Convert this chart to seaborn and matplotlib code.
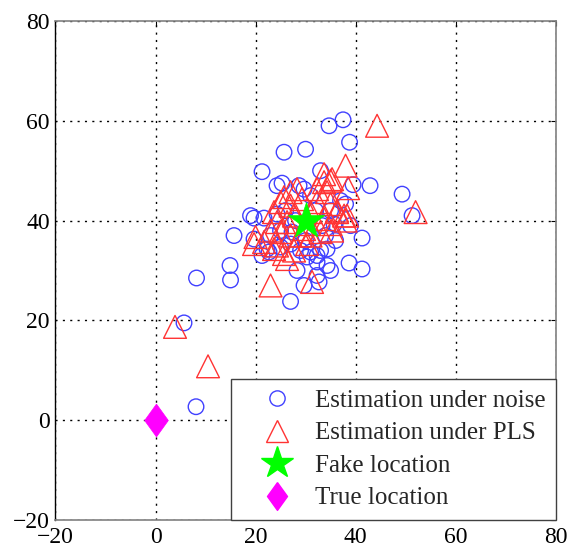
import numpy as np
import pandas as pd
import matplotlib
matplotlib.use("Agg")
import matplotlib.pyplot as plt
from matplotlib.lines import Line2D
import seaborn as sns

# Position estimates under measurement noise
noise_x = [34.7, 37.5, 38.8, 25.7, 30.0, 21.3, 33.0, 24.3, 25.3, 29.7, 39.5, 42.9,
           49.3, 51.3, 38.0, 19.7, 21.7, 15.7, 19.7, 21.3, 22.7, 41.3, 38.7, 41.3,
           35.0, 28.3, 14.9, 15.0, 8.2, 29.7, 32.3, 32.7, 27.0, 32.3, 34.3, 30.3,
           5.7, 8.1, 24.3, 35.7, 25.0, 27.0, 29.0, 33.0, 28.7, 39.0, 31.0, 22.3,
           34.3, 32.3, 27.3, 33.3, 37.0, 26.0, 30.0, 36.0, 28.0, 32.0, 25.0, 34.0,
           23.0, 31.0, 19.0, 35.0]
noise_y = [59.0, 60.2, 55.7, 53.7, 54.3, 49.8, 50.0, 47.0, 47.5, 46.3, 47.2, 47.0,
           45.3, 41.0, 43.3, 40.5, 40.5, 37.0, 36.3, 33.0, 33.7, 36.5, 31.5, 30.3,
           30.0, 30.0, 31.0, 28.1, 28.5, 27.0, 29.0, 27.7, 23.8, 33.0, 34.3, 32.7,
           19.5, 2.7, 41.3, 39.3, 34.7, 35.3, 34.0, 34.0, 47.0, 39.0, 33.7, 34.3,
           31.0, 31.7, 37.7, 39.0, 44.0, 42.0, 36.0, 36.0, 40.0, 42.0, 38.0, 37.0,
           37.0, 45.0, 41.0, 42.0]

# Position estimates under the PLS attack
pls_x = [44.3, 38.0, 33.7, 35.3, 52.0, 20.0, 23.0, 31.3, 38.3, 36.3, 3.9, 10.5,
         33.7, 35.0, 32.3, 34.3, 28.3, 27.0, 25.7, 25.0, 29.3, 32.3, 35.0, 36.3,
         37.7, 23.7, 24.3, 26.3, 27.7, 33.7, 35.0, 35.3, 33.0, 31.0, 29.0, 27.0,
         25.0, 23.0, 19.7, 21.7, 24.3, 25.7, 27.7, 26.3, 30.3, 29.7, 30.7, 27.0,
         31.0, 23.7, 38.5, 38.0]
pls_y = [59.0, 51.0, 49.3, 48.3, 41.7, 36.7, 27.0, 27.7, 41.0, 42.0, 18.7, 10.8,
         47.7, 48.0, 46.3, 45.7, 46.3, 45.7, 44.7, 43.7, 44.3, 43.7, 43.3, 41.7,
         41.0, 41.7, 39.7, 39.7, 41.0, 40.3, 39.3, 38.0, 37.7, 37.0, 37.0, 37.0,
         37.7, 38.0, 35.3, 35.7, 35.0, 33.3, 34.0, 32.3, 35.3, 38.3, 39.3, 43.0,
         41.7, 34.3, 46.5, 40.0]

fake_loc = (30, 40)
true_loc = (0, 0)

labels = ["Estimation under noise", "Estimation under PLS",
          "Fake location", "True location"]
ticks = [-20, 0, 20, 40, 60, 80]

sns.set_theme(style="white")
plt.rcParams["font.family"] = ["Liberation Serif", "DejaVu Serif"]
plt.rcParams["axes.unicode_minus"] = True

fig = plt.figure(figsize=(5.69, 5.48), dpi=100)
ax = fig.add_axes([0.0975, 0.0511, 0.879, 0.9106])

noise_df = pd.DataFrame({"x": noise_x, "y": noise_y})
pls_df = pd.DataFrame({"x": pls_x, "y": pls_y})

blue = (0.25, 0.25, 1.0)
red = (1.0, 0.2, 0.2)
diamond = [(0, 1), (0.72, 0), (0, -1), (-0.72, 0), (0, 1)]

sns.scatterplot(data=noise_df, x="x", y="y", ax=ax, marker="o", s=125,
                facecolor="none", edgecolor=blue, linewidth=1.0, zorder=3)
sns.scatterplot(data=pls_df, x="x", y="y", ax=ax, marker="^", s=270,
                facecolor="none", edgecolor=red, linewidth=1.0, zorder=4)
sns.scatterplot(x=[fake_loc[0]], y=[fake_loc[1]], ax=ax, marker="*", s=750,
                color="#00ff00", edgecolor="#00ff00", linewidth=0.5, zorder=5)
sns.scatterplot(x=[true_loc[0]], y=[true_loc[1]], ax=ax, marker=diamond, s=560,
                color="#ff00ff", edgecolor="#ff00ff", linewidth=0.5, zorder=5)

ax.set_xlim(-20, 80)
ax.set_ylim(-20, 80)
ax.set_xticks(ticks)
ax.set_yticks(ticks)
ax.set_xticklabels([f"{t}".replace("-", "\u2212") for t in ticks])
ax.set_yticklabels([f"{t}".replace("-", "\u2212") for t in ticks])
ax.set_xlabel("")
ax.set_ylabel("")
ax.tick_params(direction="in", length=3.5, width=0.8, colors="black",
               labelsize=17, top=True, right=True)
ax.tick_params(axis="x", pad=5)
ax.tick_params(axis="y", pad=4)
ax.set_axisbelow(True)
ax.grid(True, color="black", linestyle=(0, (1.5, 3.8)), linewidth=1.0)

for side in ["top", "right", "bottom"]:
    ax.spines[side].set_color("#808080")
    ax.spines[side].set_linewidth(1.2)
ax.spines["left"].set_color("black")
ax.spines["left"].set_linewidth(1.0)

handles = [
    Line2D([], [], linestyle="none", marker="o", markersize=11,
           markerfacecolor="none", markeredgecolor=blue, markeredgewidth=1.0),
    Line2D([], [], linestyle="none", marker="^", markersize=16,
           markerfacecolor="none", markeredgecolor=red, markeredgewidth=1.0),
    Line2D([], [], linestyle="none", marker="*", markersize=24,
           color="#00ff00"),
    Line2D([], [], linestyle="none", marker=diamond, markersize=20,
           color="#ff00ff"),
]
leg = ax.legend(handles, labels, loc="lower right", borderaxespad=0,
                fontsize=18, frameon=True, fancybox=False, framealpha=1,
                edgecolor="#404040", labelspacing=0.4, handlelength=2.8,
                handletextpad=0.12, borderpad=0.42)
leg.get_frame().set_linewidth(1.0)

fig.savefig("out.png", dpi=100)
